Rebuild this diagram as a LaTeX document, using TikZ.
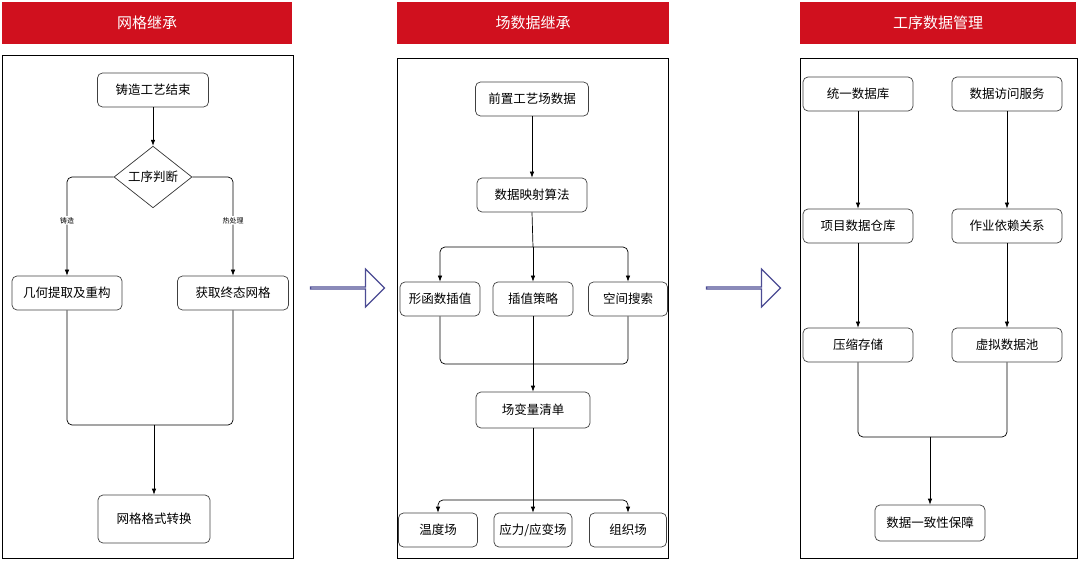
\documentclass[tikz,border=0pt]{standalone}
\usepackage{fontspec}
\setmainfont{Noto Sans CJK SC}
\usetikzlibrary{shapes.geometric,shapes.arrows,arrows.meta}
\definecolor{hdr}{HTML}{D0101E}
\begin{document}
\begin{tikzpicture}[x=1pt,y=-1pt,
  hd/.style={fill=hdr,draw=none,text=white,font=\fontsize{15}{17}\selectfont,minimum height=42pt,inner sep=0},
  panel/.style={draw=black,line width=0.8pt},
  box/.style={draw=black!75,rounded corners=5pt,line width=0.7pt,minimum height=34pt,font=\fontsize{12.5}{14}\selectfont,inner sep=2pt},
  ln/.style={line width=0.7pt,rounded corners=5pt},
  ar/.style={ln,-{Latex[length=6pt,width=4.5pt]}},
  lbl/.style={font=\fontsize{7}{8}\selectfont,fill=white,inner sep=1pt},
  big/.style={single arrow,draw=blue!40!black!70,line width=1.2pt,fill=white,minimum height=74pt,minimum width=60pt,single arrow head extend=0pt,inner sep=0}]
\useasboundingbox (0,0) rectangle (1079,561);
% headers
\node[hd,minimum width=290pt] (h1) at (147,23) {网格继承};
\node[hd,minimum width=272pt] (h2) at (533,23) {场数据继承};
\node[hd,minimum width=276pt] (h3) at (938,23) {工序数据管理};
% panels
\draw[panel] (2,55) rectangle (293,558);
\draw[panel] (397,58) rectangle (668,558);
\draw[panel] (800,58) rectangle (1077,558);
% big arrows
\node[big,single arrow head extend=10pt,minimum width=38pt] (ba1) at (347,288) {};
\node[big,single arrow head extend=10pt,minimum width=38pt] (ba2) at (743,288) {};
% left
\node[box,minimum width=111pt] (a1) at (153,90) {铸造工艺结束};
\node[draw=black!80,line width=0.7pt,diamond,minimum width=78pt,minimum height=60pt,inner sep=0,font=\fontsize{12.5}{14}\selectfont] (a2) at (153,177) {工序判断};
\node[box,minimum width=110pt] (a3) at (67,293) {几何提取及重构};
\node[box,minimum width=111pt] (a4) at (233,293) {获取终态网格};
\node[box,minimum width=112pt,minimum height=48pt] (a5) at (154,519) {网格格式转换};
\draw[ar] (a1) -- (a2);
\draw[ar] (a2.west) -| node[lbl,pos=0.72]{铸造} (a3.north);
\draw[ar] (a2.east) -| node[lbl,pos=0.72]{热处理} (a4.north);
\coordinate (am) at (154,425);
\draw[ln] (a3.south) |- (am);
\draw[ln] (a4.south) |- (am);
\draw[ar] (am) -- (a5.north);
% middle
\node[box,minimum width=113pt] (b1) at (532,99) {前置工艺场数据};
\node[box,minimum width=110pt] (b2) at (532,195) {数据映射算法};
\node[box,minimum width=80pt] (b3) at (440,299) {形函数插值};
\node[box,minimum width=80pt] (b4) at (533,299) {插值策略};
\node[box,minimum width=79pt] (b5) at (628,299) {空间搜索};
\node[box,minimum width=114pt,minimum height=36pt] (b6) at (533,410) {场变量清单};
\node[box,minimum width=79pt] (b7) at (438,530) {温度场};
\node[box,minimum width=78pt] (b8) at (533,530) {应力/应变场};
\node[box,minimum width=77pt] (b9) at (628,530) {组织场};
\draw[ar] (b1) -- (b2);
\coordinate (bs1) at (533,247);
\draw[ln] (b2.south) -- (bs1);
\draw[ar] (bs1) -| (b3.north);
\draw[ar] (bs1) -- (b4.north);
\draw[ar] (bs1) -| (b5.north);
\coordinate (bm1) at (533,364);
\draw[ln] (b3.south) |- (bm1);
\draw[ln] (b5.south) |- (bm1);
\draw[ar] (b4.south) -- (b6.north);
\coordinate (bs2) at (533,500);
\draw[ln] (b6.south) -- (bs2);
\draw[ar] (bs2) -| (b7.north);
\draw[ar] (bs2) -- (b8.north);
\draw[ar] (bs2) -| (b9.north);
% right
\node[box,minimum width=110pt] (c1) at (858,94) {统一数据库};
\node[box,minimum width=110pt] (c2) at (1007,94) {数据访问服务};
\node[box,minimum width=110pt] (c3) at (858,226) {项目数据仓库};
\node[box,minimum width=110pt] (c4) at (1007,226) {作业依赖关系};
\node[box,minimum width=110pt] (c5) at (858,345) {压缩存储};
\node[box,minimum width=110pt] (c6) at (1007,345) {虚拟数据池};
\node[box,minimum width=110pt,minimum height=36pt] (c7) at (930,523) {数据一致性保障};
\draw[ar] (c1) -- (c3);
\draw[ar] (c2) -- (c4);
\draw[ar] (c3) -- (c5);
\draw[ar] (c4) -- (c6);
\coordinate (cm) at (930,437);
\draw[ln] (c5.south) |- (cm);
\draw[ln] (c6.south) |- (cm);
\draw[ar] (cm) -- (c7.north);
\end{tikzpicture}
\end{document}
